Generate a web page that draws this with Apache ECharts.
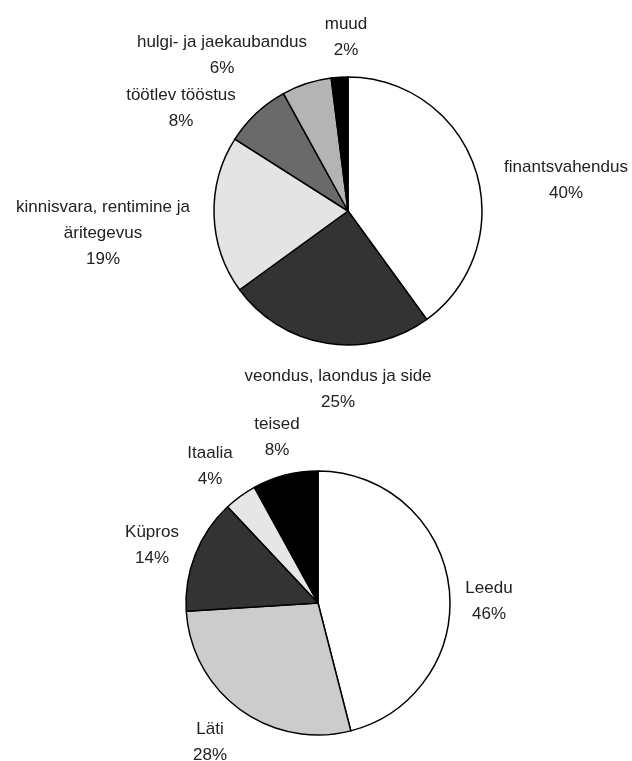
<!DOCTYPE html>
<html>
<head>
<meta charset="utf-8">
<script src="https://cdn.jsdelivr.net/npm/echarts@6/dist/echarts.min.js"></script>
<style>
  html, body { margin: 0; padding: 0; background: #fff; }
  #chart { width: 632px; height: 761px; }
</style>
</head>
<body>
<div id="chart"></div>
<script>
// tegevusalad (top pie)
const sectorNames = [
  "finantsvahendus",
  "veondus, laondus ja side",
  "kinnisvara, rentimine ja\näritegevus",
  "töötlev tööstus",
  "hulgi- ja jaekaubandus",
  "muud"
];
const sectorShares = [40, 25, 19, 8, 6, 2];

// riigid (bottom pie)
const countryNames = ["Leedu", "Läti", "Küpros", "Itaalia", "teised"];
const countryShares = [46, 28, 14, 4, 8];

const sectorColors = ["#ffffff", "#333333", "#e4e4e4", "#6a6a6a", "#b4b4b4", "#000000"];
const countryColors = ["#ffffff", "#cccccc", "#333333", "#e6e6e6", "#000000"];

// where the label blocks sit (centre of each text block)
const sectorLabelPos = [[566, 180], [338, 389], [103, 233], [181, 108], [222, 55], [346, 37]];
const countryLabelPos = [[489, 601], [210, 742], [152, 545], [210, 466], [277, 437]];

const chart = echarts.init(document.getElementById("chart"));

function pieSeries(names, values, colors, center, radius, labelPos) {
  return {
    type: "pie",
    center: center,
    radius: radius,
    startAngle: 90,
    clockwise: true,
    silent: true,
    avoidLabelOverlap: false,
    itemStyle: { borderColor: "#000", borderWidth: 1.5 },
    label: {
      show: true,
      position: "outside",
      formatter: "{b}\n{c}%",
      color: "#222",
      fontFamily: "Liberation Sans, Arial, sans-serif",
      fontSize: 17,
      lineHeight: 26,
      align: "center"
    },
    labelLine: { show: false },
    labelLayout: (params) => ({
      x: labelPos[params.dataIndex][0],
      y: labelPos[params.dataIndex][1],
      align: "center",
      verticalAlign: "middle"
    }),
    data: names.map((n, i) => ({
      name: n,
      value: values[i],
      itemStyle: { color: colors[i] }
    }))
  };
}

chart.setOption({
  animation: false,
  backgroundColor: "#fff",
  series: [
    pieSeries(sectorNames, sectorShares, sectorColors, [348, 211], 134, sectorLabelPos),
    pieSeries(countryNames, countryShares, countryColors, [318, 603], 132, countryLabelPos)
  ]
});
</script>
</body>
</html>
